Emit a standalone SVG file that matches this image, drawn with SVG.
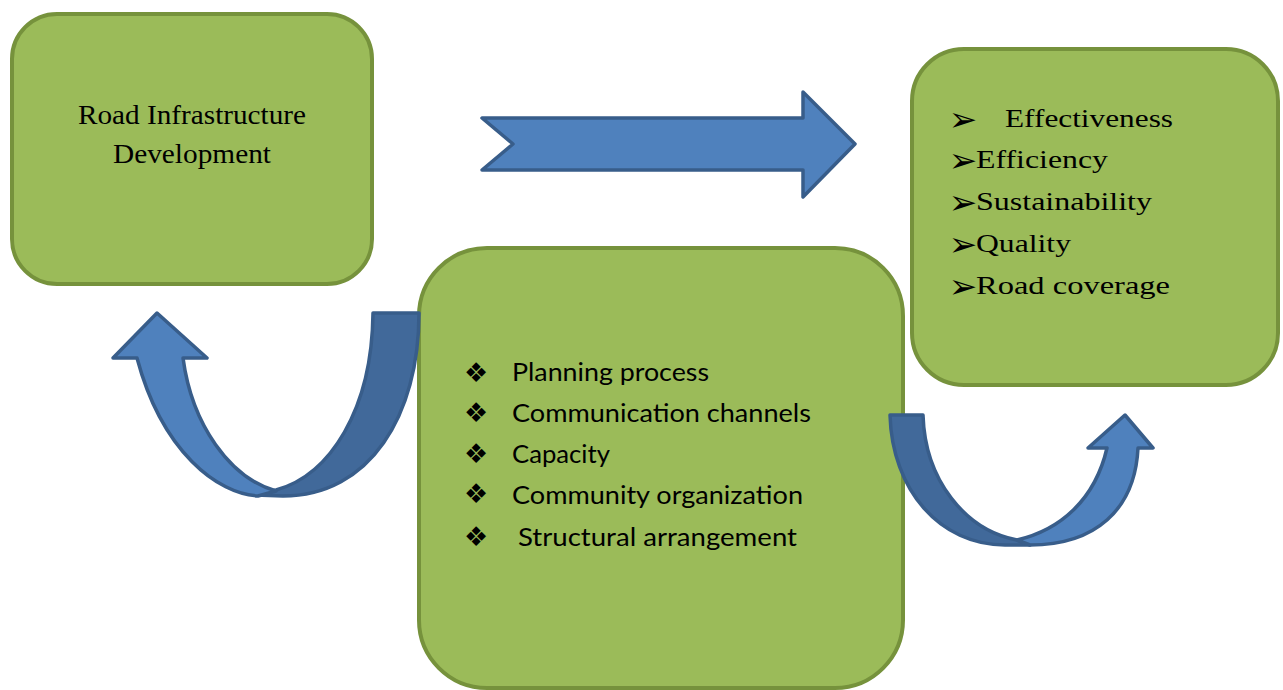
<svg xmlns="http://www.w3.org/2000/svg" width="1283" height="690" viewBox="0 0 1283 690">
  <style>
    .box { fill: #9bbb59; stroke: #76923c; stroke-width: 4; }
    .arrow { stroke: #385d8a; stroke-width: 3.5; stroke-linejoin: round; }
    .front { fill: #4f81bd; }
    .back { fill: #41699a; }
    .serif { font-family: "Liberation Serif", "Times New Roman", serif; fill: #000; }
    .sans { font-family: Lato, "Open Sans", "Liberation Sans", sans-serif; fill: #000; }
    .sym { font-family: "DejaVu Sans", sans-serif; fill: #000; }
  </style>

  <!-- Input box -->
  <g id="node-road-infrastructure">
    <rect class="box" x="12" y="14" width="360" height="270" rx="45" ry="45"/>
    <text class="serif" font-size="27" x="78" y="124" textLength="228" lengthAdjust="spacingAndGlyphs">Road Infrastructure</text>
    <text class="serif" font-size="27" x="113" y="163" textLength="158" lengthAdjust="spacingAndGlyphs">Development</text>
  </g>

  <!-- Factors box -->
  <g id="node-factors">
    <rect class="box" x="419" y="248" width="484" height="440" rx="68" ry="68"/>
    <g class="sym" font-size="27" text-anchor="middle">
      <text x="476" y="382">❖</text>
      <text x="476" y="422">❖</text>
      <text x="476" y="463">❖</text>
      <text x="476" y="503">❖</text>
      <text x="476" y="546">❖</text>
    </g>
    <g class="sans" font-size="24.5">
      <text x="512" y="381" textLength="197" lengthAdjust="spacingAndGlyphs">Planning process</text>
      <text x="512" y="422" textLength="299" lengthAdjust="spacingAndGlyphs">Communication channels</text>
      <text x="512" y="463" textLength="98" lengthAdjust="spacingAndGlyphs">Capacity</text>
      <text x="512" y="504" textLength="291" lengthAdjust="spacingAndGlyphs">Community organization</text>
      <text x="518" y="546" textLength="279" lengthAdjust="spacingAndGlyphs">Structural arrangement</text>
    </g>
  </g>

  <!-- Outcomes box -->
  <g id="node-outcomes">
    <rect class="box" x="912" y="49" width="366" height="336" rx="52" ry="52"/>
    <g class="sym" font-size="34" text-anchor="middle">
      <text x="963" y="131">➢</text>
      <text x="963" y="172">➢</text>
      <text x="963" y="214">➢</text>
      <text x="963" y="256">➢</text>
      <text x="963" y="298">➢</text>
    </g>
    <g class="serif" font-size="25">
      <text x="1005" y="127" textLength="168" lengthAdjust="spacingAndGlyphs">Effectiveness</text>
      <text x="976" y="168" textLength="132" lengthAdjust="spacingAndGlyphs">Efficiency</text>
      <text x="976" y="210" textLength="176" lengthAdjust="spacingAndGlyphs">Sustainability</text>
      <text x="976" y="252" textLength="95" lengthAdjust="spacingAndGlyphs">Quality</text>
      <text x="976" y="294" textLength="194" lengthAdjust="spacingAndGlyphs">Road coverage</text>
    </g>
  </g>

  <!-- Connectors -->
  <g id="connectors">
    <!-- straight chevron arrow: input to outcomes -->
    <path class="arrow front" d="M482,118 L803,118 L803,92 L855,144 L803,197 L803,170 L482,170 L513,144 Z"/>

    <!-- curved arrow: factors back up to input -->
    <path class="arrow back" d="M373,313 L419,313 C419,415 370,496 283,496 L255,495 L276,490 C330,475 372,410 373,313 Z"/>
    <path class="arrow front" d="M137,358 L113,358 L157,313 L207,358 L183,358 C192,425 230,478 276,491 L258,496 C218,494 162,452 137,358 Z"/>

    <!-- curved arrow: factors up to outcomes -->
    <path class="arrow back" d="M890,415 L923,415 C925,480 965,530 1017,540 L1030,545 L1005,545 C940,545 892,490 890,415 Z"/>
    <path class="arrow front" d="M1017,540 C1060,530 1095,500 1107,448 L1088,448 L1125,415 L1153,448 L1138,448 C1135,510 1095,545 1030,545 Z"/>
  </g>
</svg>
